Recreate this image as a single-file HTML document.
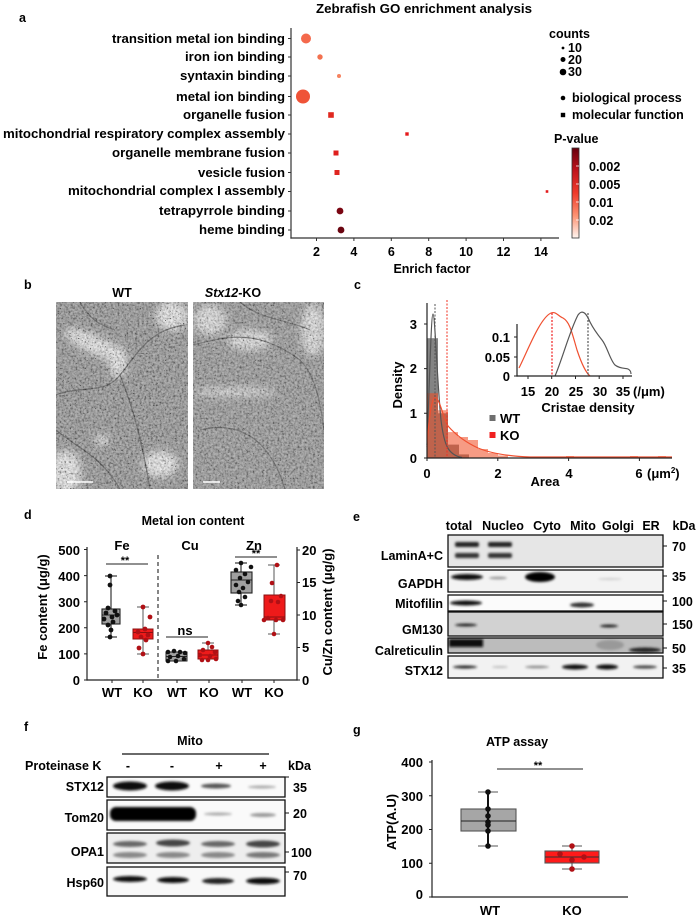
<!DOCTYPE html>
<html><head><meta charset="utf-8"><style>
html,body{margin:0;padding:0;background:#fff;}
svg{display:block;font-family:"Liberation Sans",Arial,sans-serif;font-weight:bold;}
</style></head><body>
<svg width="700" height="918" viewBox="0 0 700 918" xmlns="http://www.w3.org/2000/svg">
<defs>
 <linearGradient id="pv" x1="0" y1="0" x2="0" y2="1">
  <stop offset="0" stop-color="#67000d"/>
  <stop offset="0.25" stop-color="#c0141c"/>
  <stop offset="0.5" stop-color="#f03b2b"/>
  <stop offset="0.75" stop-color="#fc9272"/>
  <stop offset="1" stop-color="#fff5f0"/>
 </linearGradient>
 <filter id="noise" x="0" y="0" width="100%" height="100%">
  <feTurbulence type="fractalNoise" baseFrequency="0.45" numOctaves="2" seed="3"/>
  <feColorMatrix type="matrix" values="1.8 0 0 0 -0.4  1.8 0 0 0 -0.4  1.8 0 0 0 -0.4  0 0 0 0 1"/>
 </filter>
 <filter id="speck" x="0" y="0" width="100%" height="100%">
  <feTurbulence type="fractalNoise" baseFrequency="0.6" numOctaves="1" seed="11"/>
  <feColorMatrix type="matrix" values="0 0 0 0 0.05  0 0 0 0 0.05  0 0 0 0 0.05  10 0 0 0 -6.6"/>
 </filter>
 <filter id="bl" x="-50%" y="-50%" width="200%" height="200%"><feGaussianBlur stdDeviation="1.3"/></filter>
 <filter id="bl2" x="-50%" y="-50%" width="200%" height="200%"><feGaussianBlur stdDeviation="4"/></filter>
 <clipPath id="cw"><rect x="56" y="302" width="132" height="187"/></clipPath>
 <clipPath id="ck"><rect x="193" y="302" width="131" height="187"/></clipPath>
</defs>
<rect width="700" height="918" fill="#fff"/>

<!-- ===== Panel a ===== -->
<text x="19" y="22" font-size="12.5">a</text>
<text x="424" y="13" font-size="12.5" text-anchor="middle" textLength="216" lengthAdjust="spacingAndGlyphs">Zebrafish GO enrichment analysis</text>
<g font-size="13" text-anchor="end">
 <text x="285" y="43" textLength="173" lengthAdjust="spacingAndGlyphs">transition metal ion binding</text>
 <text x="285" y="61" textLength="100" lengthAdjust="spacingAndGlyphs">iron ion binding</text>
 <text x="285" y="80" textLength="105" lengthAdjust="spacingAndGlyphs">syntaxin binding</text>
 <text x="285" y="101" textLength="109" lengthAdjust="spacingAndGlyphs">metal ion binding</text>
 <text x="285" y="119" textLength="102" lengthAdjust="spacingAndGlyphs">organelle fusion</text>
 <text x="285" y="138" textLength="282" lengthAdjust="spacingAndGlyphs">mitochondrial respiratory complex assembly</text>
 <text x="285" y="157" textLength="173" lengthAdjust="spacingAndGlyphs">organelle membrane fusion</text>
 <text x="285" y="177" textLength="87" lengthAdjust="spacingAndGlyphs">vesicle fusion</text>
 <text x="285" y="195" textLength="217" lengthAdjust="spacingAndGlyphs">mitochondrial complex I assembly</text>
 <text x="285" y="215" textLength="126" lengthAdjust="spacingAndGlyphs">tetrapyrrole binding</text>
 <text x="285" y="234" textLength="86" lengthAdjust="spacingAndGlyphs">heme binding</text>
</g>
<g stroke="#333" stroke-width="1.2">
 <line x1="291" y1="28" x2="291" y2="238.6"/>
 <line x1="290.4" y1="238" x2="559" y2="238"/>
 <path d="M288 38.5h3M288 57h3M288 76h3M288 96.5h3M288 115h3M288 134h3M288 153h3M288 172.5h3M288 191.5h3M288 211h3M288 230h3" stroke-width="1"/>
 <path d="M316.5 238v3M353.9 238v3M391.3 238v3M428.7 238v3M466.1 238v3M503.5 238v3M540.9 238v3" stroke-width="1"/>
</g>
<g font-size="12.5" text-anchor="middle">
 <text x="316.5" y="256">2</text><text x="353.9" y="256">4</text><text x="391.3" y="256">6</text>
 <text x="428.7" y="256">8</text><text x="466.1" y="256">10</text><text x="503.5" y="256">12</text><text x="540.9" y="256">14</text>
 <text x="432" y="273">Enrich factor</text>
</g>
<circle cx="306" cy="38.5" r="5" fill="#f4694c"/>
<circle cx="320" cy="57" r="2.7" fill="#f3714f"/>
<circle cx="339" cy="76" r="2" fill="#f6825f"/>
<circle cx="303" cy="96.5" r="7" fill="#ef5337"/>
<rect x="328.2" y="112.2" width="5.6" height="5.6" fill="#e0281f"/>
<rect x="405.3" y="132.3" width="3.4" height="3.4" fill="#e5191b"/>
<rect x="333.5" y="150.5" width="5" height="5" fill="#df1f1d"/>
<rect x="334.5" y="170" width="5" height="5" fill="#df2520"/>
<rect x="545.7" y="190.2" width="2.6" height="2.6" fill="#e31a1c"/>
<circle cx="340" cy="211" r="3.4" fill="#7a0612"/>
<circle cx="341" cy="230" r="3.4" fill="#6a0510"/>
<!-- legend -->
<g font-size="12.5">
 <text x="549" y="38">counts</text>
 <circle cx="563" cy="48" r="1.4" fill="#000"/><text x="568" y="52">10</text>
 <circle cx="563" cy="59.5" r="2.5" fill="#000"/><text x="568" y="64">20</text>
 <circle cx="563" cy="72" r="3.3" fill="#000"/><text x="568" y="76">30</text>
 <circle cx="563" cy="98" r="2.3" fill="#000"/><text x="572" y="102">biological process</text>
 <rect x="560.8" y="112.8" width="4.4" height="4.4" fill="#000"/><text x="572" y="119">molecular function</text>
 <text x="554" y="143">P-value</text>
 <rect x="572" y="148" width="7" height="90" fill="url(#pv)" stroke="#333" stroke-width="0.8"/>
 <path d="M576 166h3M576 184h3M576 202h3M576 220h3" stroke="#fff" stroke-width="0.8"/>
 <text x="589" y="171">0.002</text>
 <text x="589" y="189">0.005</text>
 <text x="589" y="207">0.01</text>
 <text x="589" y="225">0.02</text>
</g>

<!-- ===== Panel b ===== -->
<text x="24" y="289" font-size="12.5">b</text>
<text x="122" y="297" font-size="12.5" text-anchor="middle">WT</text>
<text x="233" y="297" font-size="12.5" text-anchor="middle"><tspan font-style="italic">Stx12</tspan>-KO</text>
<g clip-path="url(#cw)">
 <rect x="56" y="302" width="132" height="187" fill="#8c8c8c"/>
 <g filter="url(#bl2)" fill="#e6e6e6">
  <ellipse cx="172" cy="316" rx="16" ry="15"/>
  <ellipse cx="95" cy="345" rx="33" ry="9" transform="rotate(25 95 345)"/>
  <ellipse cx="118" cy="362" rx="9" ry="16"/>
  <ellipse cx="66" cy="472" rx="15" ry="22"/>
  <ellipse cx="160" cy="464" rx="18" ry="13"/>
  <ellipse cx="102" cy="440" rx="7" ry="5"/>
 </g>
 <g fill="none" stroke="#3a3a3a" stroke-width="1.3" opacity="0.85">
  <path d="M56 395 C80 385 105 395 120 375 C140 350 150 330 185 325"/>
  <path d="M120 375 C130 400 140 430 150 489"/>
  <path d="M80 302 C90 320 100 325 115 330"/>
  <path d="M56 430 C80 450 100 455 120 489"/>
 </g>
 <rect x="56" y="302" width="132" height="187" filter="url(#noise)" opacity="0.35"/>
 <rect x="56" y="302" width="132" height="187" filter="url(#speck)" opacity="0.8"/>
 <line x1="67" y1="482" x2="93" y2="482" stroke="#fff" stroke-width="1.6"/>
</g>
<g clip-path="url(#ck)">
 <rect x="193" y="302" width="131" height="187" fill="#8e8e8e"/>
 <g filter="url(#bl2)" fill="#dadada">
  <ellipse cx="210" cy="320" rx="16" ry="15"/>
  <ellipse cx="313" cy="330" rx="12" ry="26"/>
  <ellipse cx="235" cy="392" rx="42" ry="4"/>
  <ellipse cx="250" cy="340" rx="22" ry="10"/>
 </g>
 <g fill="none" stroke="#444" stroke-width="1.2" opacity="0.85">
  <path d="M193 345 C230 335 260 330 300 360 C315 375 320 400 324 430"/>
  <path d="M240 302 C260 320 290 320 310 330"/>
  <path d="M200 430 C240 420 270 440 285 489"/>
 </g>
 <rect x="193" y="302" width="131" height="187" filter="url(#noise)" opacity="0.35"/>
 <rect x="193" y="302" width="131" height="187" filter="url(#speck)" opacity="0.6"/>
 <line x1="203" y1="482" x2="220" y2="482" stroke="#fff" stroke-width="1.6"/>
</g>

<!-- ===== Panel c ===== -->
<text x="354" y="289" font-size="12.5">c</text>
<g fill="#6e6e6e" opacity="0.85">
 <rect x="427" y="338.2" width="11" height="119.8"/>
 <rect x="438" y="413.3" width="10" height="44.7"/>
 <rect x="448" y="444.6" width="11" height="13.4"/>
 <rect x="459" y="454.4" width="10" height="3.6"/>
</g>
<g fill="#f04a20" opacity="0.55">
 <rect x="427" y="393.2" width="11" height="64.8"/>
 <rect x="438" y="410.2" width="10" height="47.8"/>
 <rect x="448" y="432.1" width="10" height="25.9"/>
 <rect x="458" y="437" width="10" height="21"/>
 <rect x="468" y="440" width="10" height="18"/>
 <rect x="478" y="449" width="10" height="9"/>
 <rect x="488" y="453" width="10" height="5"/>
 <rect x="498" y="455.5" width="10" height="2.5"/>
 <rect x="566" y="456" width="8" height="2"/>
 <rect x="630" y="456" width="8" height="2"/>
 <rect x="658" y="456" width="8" height="2"/>
</g>
<path d="M427 445 C429 400 431 314 433 314 C435 314 437 380 441 420 C444 445 448 455 462 457.5" fill="none" stroke="#555" stroke-width="1.2"/>
<path d="M427 447 C429 415 432 398 435 398 C440 398 443 418 448 426 C455 434 465 442 478 448 C490 453 505 456 530 457 L672 457" fill="none" stroke="#f05030" stroke-width="1.2"/>
<line x1="435" y1="304" x2="435" y2="458" stroke="#555" stroke-width="1" stroke-dasharray="2,1.5"/>
<line x1="447" y1="300" x2="447" y2="458" stroke="#f03020" stroke-width="1" stroke-dasharray="2,1.5"/>
<g stroke="#222" stroke-width="1.2">
 <line x1="427" y1="303" x2="427" y2="458.6"/>
 <line x1="426.4" y1="458" x2="672" y2="458"/>
 <path d="M424 324h3M424 368.6h3M424 413.3h3M424 458h3" stroke-width="1"/>
 <path d="M427 458v3M497.8 458v3M568.6 458v3M639.4 458v3" stroke-width="1"/>
</g>
<g font-size="13" text-anchor="end">
 <text x="417" y="329">3</text><text x="417" y="373">2</text><text x="417" y="418">1</text><text x="417" y="463">0</text>
</g>
<text transform="translate(402,385) rotate(-90)" font-size="13" text-anchor="middle">Density</text>
<g font-size="13" text-anchor="middle">
 <text x="427" y="478">0</text><text x="498" y="478">2</text><text x="569" y="478">4</text><text x="639" y="478">6</text>
 <text x="545" y="486">Area</text>
</g>
<text x="647" y="478" font-size="13">(μm<tspan font-size="8" dy="-5">2</tspan><tspan dy="5">)</tspan></text>
<rect x="489.5" y="415" width="6" height="6" fill="#6e6e6e"/>
<text x="500" y="423" font-size="13">WT</text>
<rect x="489.5" y="432" width="6" height="6" fill="#f02020"/>
<text x="500" y="440" font-size="13">KO</text>
<!-- inset -->
<path d="M519 368 C528 350 540 318 551 313 C556 311 558 316 563 318 C570 322 572 333 577 350 C581 362 585 372 590 376" fill="none" stroke="#f05030" stroke-width="1.2"/>
<path d="M555 376 C562 360 570 330 578 315 C583 308 587 315 590 322 C594 330 598 335 602 340 C607 346 610 360 615 365 C620 369 626 368 628 369 C630 370 631 372 631 374" fill="none" stroke="#555" stroke-width="1.2"/>
<line x1="552" y1="313" x2="552" y2="376" stroke="#f02020" stroke-width="1.2" stroke-dasharray="2,1.5"/>
<line x1="588" y1="313" x2="588" y2="376" stroke="#555" stroke-width="1.2" stroke-dasharray="2,1.5"/>
<g stroke="#222" stroke-width="1.2">
 <line x1="517" y1="324" x2="517" y2="376.6"/>
 <line x1="516.4" y1="376" x2="632" y2="376"/>
 <path d="M514 337h3M514 357h3M514 376h3" stroke-width="1"/>
 <path d="M528 376v3M551.7 376v3M575.5 376v3M599.2 376v3M623 376v3" stroke-width="1"/>
</g>
<g font-size="13" text-anchor="end">
 <text x="510" y="342">0.1</text><text x="510" y="362">0.05</text><text x="510" y="381">0</text>
</g>
<g font-size="13" text-anchor="middle">
 <text x="528" y="396">15</text><text x="552" y="396">20</text><text x="576" y="396">25</text><text x="600" y="396">30</text><text x="623" y="396">35</text>
 <text x="588" y="412">Cristae density</text>
</g>
<text x="633" y="396" font-size="13">(/μm)</text>

<!-- ===== Panel d ===== -->
<text x="24" y="519" font-size="12.5">d</text>
<text x="193" y="525" font-size="12.5" text-anchor="middle">Metal ion content</text>
<g font-size="13">
 <text x="122" y="550" text-anchor="middle">Fe</text>
 <text x="190" y="550" text-anchor="middle">Cu</text>
 <text x="254" y="550" text-anchor="middle">Zn</text>
</g>
<g stroke="#222" stroke-width="1.2">
 <line x1="87" y1="547" x2="87" y2="680.6"/>
 <line x1="297" y1="547" x2="297" y2="680.6"/>
 <line x1="86.4" y1="680" x2="297.6" y2="680"/>
 <path d="M84 549.5h3M84 575.6h3M84 601.7h3M84 627.8h3M84 653.9h3M84 680h3" stroke-width="1"/>
 <path d="M297 550h3M297 582.5h3M297 615h3M297 647.5h3M297 680h3" stroke-width="1"/>
 <path d="M112 680v3M143 680v3M177 680v3M209 680v3M242 680v3M274 680v3" stroke-width="1"/>
</g>
<line x1="158" y1="555" x2="158" y2="680" stroke="#222" stroke-width="1.1" stroke-dasharray="4,3"/>
<g font-size="13" text-anchor="end">
 <text x="80" y="555">500</text><text x="80" y="581">400</text><text x="80" y="607">300</text>
 <text x="80" y="633">200</text><text x="80" y="659">100</text><text x="80" y="685">0</text>
</g>
<g font-size="13">
 <text x="302" y="555">20</text><text x="302" y="587">15</text><text x="302" y="620">10</text>
 <text x="302" y="652">5</text><text x="302" y="685">0</text>
</g>
<text transform="translate(47,607) rotate(-90)" font-size="13" text-anchor="middle">Fe content (μg/g)</text>
<text transform="translate(332,612) rotate(-90)" font-size="13" text-anchor="middle">Cu/Zn content (μg/g)</text>
<g font-size="13" text-anchor="middle">
 <text x="112" y="697">WT</text><text x="143" y="697">KO</text><text x="177" y="697">WT</text>
 <text x="209" y="697">KO</text><text x="242" y="697">WT</text><text x="274" y="697">KO</text>
</g>
<g stroke="#222" stroke-width="1.1">
 <line x1="106" y1="564" x2="148" y2="564"/>
 <line x1="235" y1="557" x2="277" y2="557"/>
 <line x1="166" y1="637" x2="208" y2="637"/>
</g>
<text x="125" y="564" font-size="11" text-anchor="middle">**</text>
<text x="256" y="557" font-size="11" text-anchor="middle">**</text>
<text x="185" y="635" font-size="13" text-anchor="middle">ns</text>
<g stroke="#222" stroke-width="1.1">
 <line x1="111" y1="576" x2="111" y2="637"/>
 <line x1="105" y1="576" x2="117" y2="576"/><line x1="105" y1="637" x2="117" y2="637"/>
 <rect x="102" y="609" width="18" height="15" fill="#a0a0a0"/>
 <line x1="102" y1="615" x2="120" y2="615"/>
</g>
<g fill="#111">
 <circle cx="110" cy="576" r="2.4"/><circle cx="110" cy="585" r="2.4"/><circle cx="108" cy="608" r="2.4"/>
 <circle cx="115" cy="611" r="2.4"/><circle cx="106" cy="613" r="2.4"/><circle cx="117" cy="615" r="2.4"/>
 <circle cx="112" cy="617" r="2.4"/><circle cx="104" cy="619" r="2.4"/><circle cx="113" cy="622" r="2.4"/>
 <circle cx="108" cy="625" r="2.4"/><circle cx="111" cy="630" r="2.4"/><circle cx="110" cy="637" r="2.4"/>
</g>
<g stroke="#666" stroke-width="1.1">
 <line x1="143" y1="607" x2="143" y2="654"/>
 <line x1="137" y1="607" x2="149" y2="607"/><line x1="137" y1="654" x2="149" y2="654"/>
</g>
<rect x="133" y="629" width="20" height="10" fill="#ee1a1a" stroke="#8a1010" stroke-width="1"/>
<line x1="133" y1="632.5" x2="153" y2="632.5" stroke="#8a1010" stroke-width="1"/>
<g fill="#b01015">
 <circle cx="143" cy="607" r="2.4"/><circle cx="150" cy="617" r="2.4"/><circle cx="145" cy="629" r="2.4"/>
 <circle cx="138" cy="632" r="2.4"/><circle cx="148" cy="635" r="2.4"/><circle cx="141" cy="637" r="2.4"/>
 <circle cx="146" cy="640" r="2.4"/><circle cx="139" cy="648" r="2.4"/><circle cx="143" cy="654" r="2.4"/>
</g>
<rect x="166" y="652" width="21" height="9" fill="#a0a0a0" stroke="#222" stroke-width="1"/>
<line x1="166" y1="656.5" x2="187" y2="656.5" stroke="#222"/>
<g fill="#111">
 <circle cx="168" cy="652" r="2.3"/><circle cx="174" cy="651" r="2.3"/><circle cx="180" cy="652" r="2.3"/><circle cx="185" cy="653" r="2.3"/>
 <circle cx="170" cy="657" r="2.3"/><circle cx="178" cy="656" r="2.3"/><circle cx="184" cy="659" r="2.3"/>
 <circle cx="168" cy="661" r="2.3"/><circle cx="176" cy="661" r="2.3"/>
</g>
<line x1="208" y1="643" x2="208" y2="660" stroke="#666" stroke-width="1.1"/>
<line x1="202" y1="643" x2="214" y2="643" stroke="#666" stroke-width="1.1"/>
<rect x="198" y="650" width="20" height="9" fill="#ee1a1a" stroke="#8a1010" stroke-width="1"/>
<line x1="198" y1="655" x2="218" y2="655" stroke="#8a1010"/>
<g fill="#b01015">
 <circle cx="208" cy="643" r="2.3"/><circle cx="212" cy="647" r="2.3"/><circle cx="203" cy="650" r="2.3"/>
 <circle cx="215" cy="652" r="2.3"/><circle cx="200" cy="655" r="2.3"/><circle cx="210" cy="656" r="2.3"/>
 <circle cx="216" cy="659" r="2.3"/><circle cx="202" cy="660" r="2.3"/><circle cx="208" cy="660" r="2.3"/>
</g>
<g stroke="#222" stroke-width="1.1">
 <line x1="241" y1="563" x2="241" y2="605"/>
 <line x1="235" y1="563" x2="247" y2="563"/><line x1="235" y1="605" x2="247" y2="605"/>
 <rect x="231" y="572" width="21" height="21" fill="#a0a0a0"/>
 <line x1="231" y1="580" x2="252" y2="580"/>
</g>
<g fill="#111">
 <circle cx="241" cy="563" r="2.3"/><circle cx="251" cy="567" r="2.3"/><circle cx="236" cy="570" r="2.3"/>
 <circle cx="245" cy="574" r="2.3"/><circle cx="240" cy="578" r="2.3"/><circle cx="248" cy="582" r="2.3"/>
 <circle cx="236" cy="585" r="2.3"/><circle cx="243" cy="588" r="2.3"/><circle cx="239" cy="592" r="2.3"/>
 <circle cx="245" cy="597" r="2.3"/><circle cx="238" cy="601" r="2.3"/><circle cx="241" cy="605" r="2.3"/>
</g>
<g stroke="#666" stroke-width="1.1">
 <line x1="274" y1="565" x2="274" y2="634"/>
 <line x1="268" y1="565" x2="280" y2="565"/><line x1="268" y1="634" x2="280" y2="634"/>
</g>
<rect x="264" y="595" width="21" height="25" fill="#ee1a1a" stroke="#8a1010" stroke-width="1"/>
<line x1="264" y1="617" x2="285" y2="617" stroke="#8a1010"/>
<g fill="#b01015">
 <circle cx="277" cy="565" r="2.3"/><circle cx="272" cy="583" r="2.3"/><circle cx="281" cy="596" r="2.3"/>
 <circle cx="271" cy="601" r="2.3"/><circle cx="278" cy="602" r="2.3"/><circle cx="268" cy="618" r="2.3"/>
 <circle cx="276" cy="620" r="2.3"/><circle cx="283" cy="620" r="2.3"/><circle cx="264" cy="620" r="2.3"/>
 <circle cx="274" cy="634" r="2.3"/>
</g>

<!-- ===== Panel e ===== -->
<text x="353" y="521" font-size="12.5">e</text>
<g font-size="12.5" text-anchor="middle">
 <text x="459" y="530">total</text><text x="503" y="530">Nucleo</text><text x="547" y="530">Cyto</text>
 <text x="583" y="530">Mito</text><text x="618" y="530">Golgi</text><text x="651" y="530">ER</text><text x="684" y="530">kDa</text>
</g>
<g font-size="12.5" text-anchor="end">
 <text x="443" y="560">LaminA+C</text>
 <text x="443" y="588">GAPDH</text>
 <text x="443" y="608">Mitofilin</text>
 <text x="443" y="634">GM130</text>
 <text x="443" y="655">Calreticulin</text>
 <text x="443" y="675">STX12</text>
</g>
<rect x="448" y="535" width="215" height="32" fill="#e6e6e6"/>
<rect x="448" y="570" width="215" height="22" fill="#f3f3f3"/>
<rect x="448" y="595" width="215" height="16" fill="#fbfbfb"/>
<rect x="448" y="612" width="215" height="24" fill="#d2d2d2"/>
<rect x="448" y="638" width="215" height="15" fill="#bcbcbc"/>
<rect x="448" y="656" width="215" height="22" fill="#f2f2f2"/>
<g filter="url(#bl)">
 <rect x="455" y="542" width="24" height="5" rx="2" fill="#222"/>
 <rect x="455" y="553" width="24" height="5" rx="2" fill="#333"/>
 <rect x="488" y="542" width="24" height="5" rx="2" fill="#222"/>
 <rect x="488" y="553" width="24" height="5" rx="2" fill="#333"/>
 <ellipse cx="467" cy="577" rx="16" ry="3" fill="#111"/>
 <ellipse cx="498" cy="578" rx="9" ry="1.4" fill="#999"/>
 <ellipse cx="540" cy="577" rx="15" ry="5" fill="#000"/>
 <ellipse cx="610" cy="579" rx="12" ry="1" fill="#ccc"/>
 <ellipse cx="466" cy="603" rx="16" ry="2.5" fill="#111"/>
 <ellipse cx="582" cy="605" rx="12" ry="2.5" fill="#333"/>
 <ellipse cx="466" cy="625" rx="11" ry="1.5" fill="#222"/>
 <ellipse cx="609" cy="626" rx="9" ry="1.5" fill="#222"/>
 <rect x="449" y="639" width="34" height="8" fill="#111"/>
 <ellipse cx="610" cy="645" rx="14" ry="5" fill="#999"/>
 <ellipse cx="645" cy="650" rx="16" ry="2.5" fill="#222"/>
 <ellipse cx="465" cy="667" rx="12" ry="1.5" fill="#222"/>
 <ellipse cx="500" cy="667" rx="8" ry="1" fill="#bbb"/>
 <ellipse cx="537" cy="667" rx="12" ry="1.3" fill="#888"/>
 <ellipse cx="575" cy="667" rx="13" ry="2.5" fill="#111"/>
 <ellipse cx="607" cy="667" rx="11" ry="2.5" fill="#111"/>
 <ellipse cx="645" cy="667" rx="12" ry="1.6" fill="#444"/>
</g>
<g fill="none" stroke="#111" stroke-width="1.3">
 <rect x="448" y="535" width="215" height="32"/>
 <rect x="448" y="570" width="215" height="22"/>
 <rect x="448" y="595" width="215" height="16"/>
 <rect x="448" y="612" width="215" height="24"/>
 <rect x="448" y="638" width="215" height="15"/>
 <rect x="448" y="656" width="215" height="22"/>
 <path d="M663 546h4M663 576h4M663 601h4M663 624h4M663 648h4M663 668h4" stroke-width="1"/>
</g>
<g font-size="12.5">
 <text x="672" y="551">70</text><text x="672" y="581">35</text><text x="672" y="606">100</text>
 <text x="672" y="629">150</text><text x="672" y="653">50</text><text x="672" y="673">35</text>
</g>

<!-- ===== Panel f ===== -->
<text x="24" y="731" font-size="12.5">f</text>
<text x="190" y="745" font-size="12.5" text-anchor="middle">Mito</text>
<line x1="122" y1="754" x2="269" y2="754" stroke="#111" stroke-width="1.3"/>
<text x="25" y="770" font-size="12.5">Proteinase K</text>
<g font-size="12.5" text-anchor="middle">
 <text x="128" y="770">-</text><text x="172" y="770">-</text><text x="219" y="770">+</text><text x="263" y="770">+</text>
</g>
<text x="288" y="770" font-size="12.5">kDa</text>
<g font-size="12.5" text-anchor="end">
 <text x="104" y="791">STX12</text><text x="104" y="822">Tom20</text><text x="104" y="856">OPA1</text><text x="104" y="887">Hsp60</text>
</g>
<rect x="107" y="777" width="178" height="20" fill="#fafafa"/>
<rect x="107" y="800" width="178" height="30" fill="#fafafa"/>
<rect x="107" y="833" width="178" height="30" fill="#eeeeee"/>
<rect x="107" y="867" width="178" height="29" fill="#f8f8f8"/>
<g filter="url(#bl)">
 <ellipse cx="130" cy="786" rx="17" ry="4.5" fill="#111"/>
 <ellipse cx="172" cy="786" rx="17" ry="4.5" fill="#111"/>
 <ellipse cx="216" cy="786" rx="15" ry="2.5" fill="#555"/>
 <ellipse cx="262" cy="787" rx="14" ry="1.5" fill="#aaa"/>
 <rect x="110" y="807" width="86" height="14" rx="6" fill="#000"/>
 <ellipse cx="218" cy="814" rx="14" ry="1.5" fill="#aaa"/>
 <ellipse cx="263" cy="815" rx="13" ry="2" fill="#999"/>
 <ellipse cx="130" cy="844" rx="17" ry="3" fill="#666"/><ellipse cx="130" cy="855" rx="17" ry="3" fill="#888"/>
 <ellipse cx="173" cy="843" rx="17" ry="3.5" fill="#444"/><ellipse cx="173" cy="855" rx="17" ry="3" fill="#888"/>
 <ellipse cx="218" cy="844" rx="17" ry="3" fill="#666"/><ellipse cx="218" cy="855" rx="17" ry="3" fill="#888"/>
 <ellipse cx="263" cy="844" rx="17" ry="3.5" fill="#444"/><ellipse cx="263" cy="855" rx="17" ry="3" fill="#777"/>
 <ellipse cx="130" cy="879" rx="17" ry="3" fill="#111"/>
 <ellipse cx="173" cy="880" rx="16" ry="3" fill="#111"/>
 <ellipse cx="218" cy="881" rx="16" ry="3" fill="#222"/>
 <ellipse cx="263" cy="881" rx="17" ry="3.3" fill="#111"/>
</g>
<g fill="none" stroke="#111" stroke-width="1.3">
 <rect x="107" y="777" width="178" height="20"/>
 <rect x="107" y="800" width="178" height="30"/>
 <rect x="107" y="833" width="178" height="30"/>
 <rect x="107" y="867" width="178" height="29"/>
 <path d="M285 777h4M285 813h4M285 852h4M285 872h4" stroke-width="1"/>
</g>
<g font-size="12.5">
 <text x="293" y="792">35</text><text x="293" y="818">20</text><text x="291" y="857">100</text><text x="293" y="880">70</text>
</g>

<!-- ===== Panel g ===== -->
<text x="353" y="734" font-size="12.5">g</text>
<text x="517" y="746" font-size="12.5" text-anchor="middle">ATP assay</text>
<g stroke="#222" stroke-width="1.2">
 <line x1="432" y1="760" x2="432" y2="897.6"/>
 <line x1="431.4" y1="897" x2="628" y2="897"/>
 <path d="M429 762h3M429 795.75h3M429 829.5h3M429 863.25h3M429 897h3" stroke-width="1"/>
</g>
<g font-size="13" text-anchor="end">
 <text x="423" y="767">400</text><text x="423" y="801">300</text><text x="423" y="834">200</text>
 <text x="423" y="868">100</text><text x="423" y="899">0</text>
</g>
<text transform="translate(396,822) rotate(-90)" font-size="13" text-anchor="middle">ATP(A.U)</text>
<g font-size="13" text-anchor="middle">
 <text x="490" y="915">WT</text><text x="572" y="915">KO</text>
</g>
<line x1="497" y1="769" x2="583" y2="769" stroke="#222" stroke-width="1.1"/>
<text x="538" y="769" font-size="11" text-anchor="middle">**</text>
<g stroke="#555" stroke-width="1.1">
 <line x1="488" y1="792" x2="488" y2="846"/>
 <line x1="478" y1="792" x2="498" y2="792"/><line x1="478" y1="846" x2="498" y2="846"/>
 <rect x="461" y="809" width="55" height="22" fill="#a6a6a6"/>
 <line x1="461" y1="821" x2="516" y2="821" stroke="#222"/>
</g>
<line x1="488" y1="792" x2="488" y2="846" stroke="#111" stroke-width="2"/>
<g fill="#111">
 <circle cx="488" cy="792" r="2.8"/><circle cx="488" cy="809" r="2.8"/><circle cx="488" cy="816" r="2.8"/>
 <circle cx="488" cy="822" r="2.8"/><circle cx="488" cy="825" r="2.8"/><circle cx="488" cy="831" r="2.8"/>
 <circle cx="488" cy="846" r="2.8"/>
</g>
<g stroke="#555" stroke-width="1.1">
 <line x1="572" y1="846" x2="572" y2="869"/>
 <line x1="562" y1="846" x2="582" y2="846"/><line x1="562" y1="869" x2="582" y2="869"/>
 <rect x="545" y="851" width="54" height="12" fill="#ff1a1a"/>
 <line x1="545" y1="857" x2="599" y2="857" stroke="#333"/>
</g>
<g fill="#b01015">
 <circle cx="572" cy="846" r="2.8"/><circle cx="560" cy="854" r="2.8"/><circle cx="584" cy="857" r="2.8"/>
 <circle cx="572" cy="860" r="2.8"/><circle cx="572" cy="869" r="2.8"/>
</g>
</svg>
</body></html>
